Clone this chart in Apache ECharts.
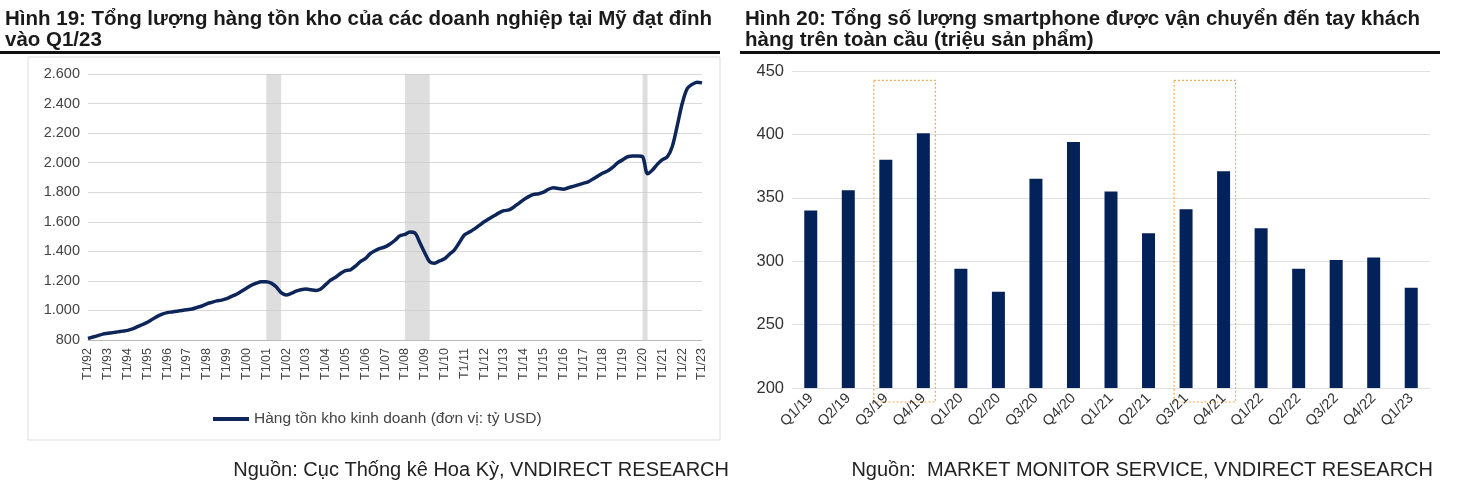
<!DOCTYPE html>
<html><head><meta charset="utf-8">
<script src="https://cdn.jsdelivr.net/npm/echarts@6/dist/echarts.min.js"></script>
<style>html,body{margin:0;padding:0;background:#fff}#c{width:1480px;height:485px}</style>
</head><body><div id="c"></div>
<script>
const years = ['92','93','94','95','96','97','98','99','00','01','02','03','04','05','06','07','08','09','10','11','12','13','14','15','16','17','18','19','20','21','22','23'];
const inventory = [
810,820,830,840, 845,850,855,860, 865,875,890,905, 920,940,960,975,
985,990,995,1000, 1005,1010,1020,1030, 1045,1055,1065,1070, 1080,1095,1110,1130,
1150,1170,1185,1195, 1195,1185,1160,1120, 1105,1115,1130,1140, 1145,1140,1135,1145,
1175,1205,1225,1250, 1270,1275,1300,1330, 1350,1385,1405,1420, 1430,1450,1475,1505,
1515,1530,1525,1460, 1390,1330,1320,1335, 1350,1380,1410,1460, 1510,1530,1550,1575,
1600,1620,1640,1660, 1675,1680,1700,1725, 1750,1770,1785,1790, 1800,1820,1830,1825,
1820,1830,1840,1850, 1860,1870,1890,1910, 1930,1945,1970,2000, 2020,2040,2045,2045,
2040,1925,1950,1990, 2020,2040,2110,2250, 2400,2500,2530,2545, 2540];
const invCats = [];
years.forEach(y => { for (let q = 1; q <= 4; q++) invCats.push(q + '/' + y); });
invCats.length = inventory.length;
const recessions = [['1/01','4/01'],['1/08','2/09'],['1/20','2/20']];
const quarters = ['Q1/19','Q2/19','Q3/19','Q4/19','Q1/20','Q2/20','Q3/20','Q4/20','Q1/21','Q2/21','Q3/21','Q4/21','Q1/22','Q2/22','Q3/22','Q4/22','Q1/23'];
const shipments = [340,356,380,401,294,276,365,394,355,322,341,371,326,294,301,303,279];
const highlights = [['Q3/19','Q4/19'],['Q3/21','Q4/21']];

const navy = '#0d2559';
const chart = echarts.init(document.getElementById('c'));
const tStyle = {fontFamily:'Liberation Sans, Arial', fontWeight:'bold', fontSize:20.5, color:'#1a1a1a', lineHeight:21};
chart.setOption({
  animation:false,
  textStyle:{fontFamily:'Liberation Sans, Arial'},
  title:[
    {text:'Hình 19: Tổng lượng hàng tồn kho của các doanh nghiệp tại Mỹ đạt đỉnh\nvào Q1/23', left:0, top:4, textStyle:tStyle},
    {text:'Hình 20: Tổng số lượng smartphone được vận chuyển đến tay khách\nhàng trên toàn cầu (triệu sản phẩm)', left:740, top:4, textStyle:tStyle},
    {text:'Nguồn: Cục Thống kê Hoa Kỳ, VNDIRECT RESEARCH', right:746, top:455, textStyle:{fontSize:20,fontWeight:'normal',color:'#222'}},
    {text:'Nguồn:  MARKET MONITOR SERVICE, VNDIRECT RESEARCH', right:42, top:455, textStyle:{fontSize:20,fontWeight:'normal',color:'#222'}}
  ],
  legend:{data:['Hàng tồn kho kinh doanh (đơn vị: tỷ USD)'], left:208, top:406, itemWidth:36, itemHeight:4, icon:'rect', textStyle:{fontSize:15.5,color:'#444'}},
  grid:[
    {left:88, right:778, top:74, bottom:145},
    {left:792, right:50, top:71, bottom:97}
  ],
  xAxis:[
    {type:'category', gridIndex:0, data:invCats, boundaryGap:false,
     axisLine:{lineStyle:{color:'#bbb'}}, axisTick:{show:false},
     axisLabel:{interval:3, rotate:90, fontSize:12.5, color:'#444', formatter:v=>'T1/'+v.split('/')[1]}},
    {type:'category', gridIndex:1, data:quarters,
     axisLine:{show:false}, axisTick:{show:false},
     axisLabel:{rotate:45, fontSize:14.5, color:'#333', interval:0}}
  ],
  yAxis:[
    {type:'value', gridIndex:0, min:800, max:2600, interval:200,
     axisLabel:{fontSize:14.5,color:'#444', formatter:v=>v>=1000?String(v).replace(/(\d)(\d{3})$/,'$1.$2'):v},
     splitLine:{lineStyle:{color:'#d9d9d9'}}},
    {type:'value', gridIndex:1, min:200, max:450, interval:50,
     axisLabel:{fontSize:16.5,color:'#333'}, splitLine:{lineStyle:{color:'#e0e0e0'}}}
  ],
  series:[
    {name:'Hàng tồn kho kinh doanh (đơn vị: tỷ USD)', type:'line', xAxisIndex:0, yAxisIndex:0, data:inventory,
     showSymbol:false, smooth:0.3, lineStyle:{color:navy, width:3.5}, itemStyle:{color:navy},
     markArea:{silent:true, itemStyle:{color:'rgba(200,200,200,0.6)'},
       data:recessions.map(r=>[{xAxis:r[0], yAxis:800},{xAxis:r[1], yAxis:2600}])}},
    {type:'bar', xAxisIndex:1, yAxisIndex:1, data:shipments, barWidth:13, itemStyle:{color:'#04225a'}}
  ]
});
const gfx = [
  {type:'rect', shape:{x:28,y:57,width:692,height:383}, style:{fill:'none', stroke:'#ddd', lineWidth:1}},
  {type:'rect', shape:{x:0,y:51,width:720,height:3}, style:{fill:'#111'}},
  {type:'rect', shape:{x:740,y:51,width:700,height:3}, style:{fill:'#111'}}
];
highlights.forEach(h => {
  const a = chart.convertToPixel({gridIndex:1}, [h[0], 445]);
  const b = chart.convertToPixel({gridIndex:1}, [h[1], 200]);
  gfx.push({type:'rect', shape:{x:a[0]-12, y:a[1]+3, width:b[0]-a[0]+24, height:b[1]-a[1]+11},
    style:{fill:'none', stroke:'#f5a94a', lineWidth:1.2, lineDash:[2,2]}});
});
chart.setOption({graphic:gfx});
</script></body></html>
